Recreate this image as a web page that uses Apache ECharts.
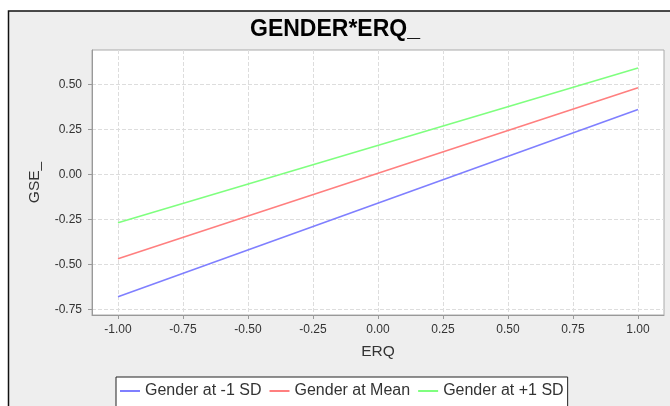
<!DOCTYPE html>
<html>
<head>
<meta charset="utf-8">
<script src="https://cdn.jsdelivr.net/npm/echarts@6/dist/echarts.min.js"></script>
<style>html,body{margin:0;padding:0;background:#fff;}#c{width:670px;height:406px;}</style>
</head>
<body>
<div id="c"></div>
<script>
var titleText = 'GENDER*ERQ_';
var xAxisName = 'ERQ';
var yAxisName = 'GSE_';
var erqValues = [-1.0, 1.0];
var seriesNames = ['Gender at -1 SD', 'Gender at Mean', 'Gender at +1 SD'];
var lowSD = [-0.68, 0.36];
var meanSD = [-0.47, 0.48];
var highSD = [-0.27, 0.59];
var xTicks = [-1.0, -0.75, -0.5, -0.25, 0.0, 0.25, 0.5, 0.75, 1.0];
var yTicks = [-0.75, -0.5, -0.25, 0.0, 0.25, 0.5];
var colors = ['#7f7fff', '#ff7f7f', '#7fff7f'];

function pairs(ys) { return erqValues.map(function (x, i) { return [x, ys[i]]; }); }
var seriesData = [lowSD, meanSD, highSD];
var font = 'Liberation Sans, Arial, sans-serif';

var chart = echarts.init(document.getElementById('c'), null, {renderer: 'canvas'});
chart.setOption({
  backgroundColor: '#ffffff',
  animation: false,
  graphic: [{
    type: 'rect', z: -10, silent: true,
    shape: {x: 8.5, y: 11, width: 700, height: 450},
    style: {fill: '#eeeeee', stroke: '#111', lineWidth: 1.5}
  }],
  title: {
    text: titleText, left: 'center', top: 13,
    textStyle: {fontFamily: font, fontSize: 23, fontWeight: 'bold', color: '#000'}
  },
  grid: {
    left: 92, top: 50, right: 6, bottom: 91,
    show: true, backgroundColor: '#ffffff', borderColor: '#aaaaaa', borderWidth: 1
  },
  legend: {
    data: seriesNames, left: 116, top: 377,
    backgroundColor: '#ffffff', borderColor: '#222', borderWidth: 1,
    padding: [6, 4, 20, 4], itemGap: 8, itemWidth: 20, itemHeight: 2, icon: 'rect',
    textStyle: {fontFamily: font, fontSize: 16, color: '#333'}
  },
  xAxis: {
    type: 'value', min: -1.1, max: 1.1,
    name: xAxisName, nameLocation: 'middle', nameGap: 29,
    nameTextStyle: {fontFamily: font, fontSize: 15.5, color: '#333'},
    axisLine: {show: true, onZero: false, lineStyle: {color: '#999'}},
    axisTick: {show: true, length: 4, customValues: xTicks, lineStyle: {color: '#999'}},
    axisLabel: {customValues: xTicks, margin: 9, fontFamily: font, fontSize: 12, color: '#333',
      formatter: function (v) { return v.toFixed(2); }},
    splitLine: {show: true, lineStyle: {color: '#dddddd', type: 'dashed'}}
  },
  yAxis: {
    type: 'value', min: -0.782, max: 0.69,
    name: yAxisName, nameLocation: 'middle', nameGap: 49, nameRotate: 90,
    nameTextStyle: {fontFamily: font, fontSize: 15.5, color: '#333'},
    axisLine: {show: true, onZero: false, lineStyle: {color: '#999'}},
    axisTick: {show: true, length: 4, customValues: yTicks, lineStyle: {color: '#999'}},
    axisLabel: {customValues: yTicks, margin: 10, fontFamily: font, fontSize: 12, color: '#333',
      formatter: function (v) { return v.toFixed(2); }},
    splitLine: {show: true, lineStyle: {color: '#dddddd', type: 'dashed'}}
  },
  series: seriesNames.map(function (n, i) {
    return {
      name: n, type: 'line', data: pairs(seriesData[i]),
      showSymbol: false, symbol: 'none',
      lineStyle: {color: colors[i], width: 1.6},
      itemStyle: {color: colors[i]}
    };
  })
});
</script>
</body>
</html>
